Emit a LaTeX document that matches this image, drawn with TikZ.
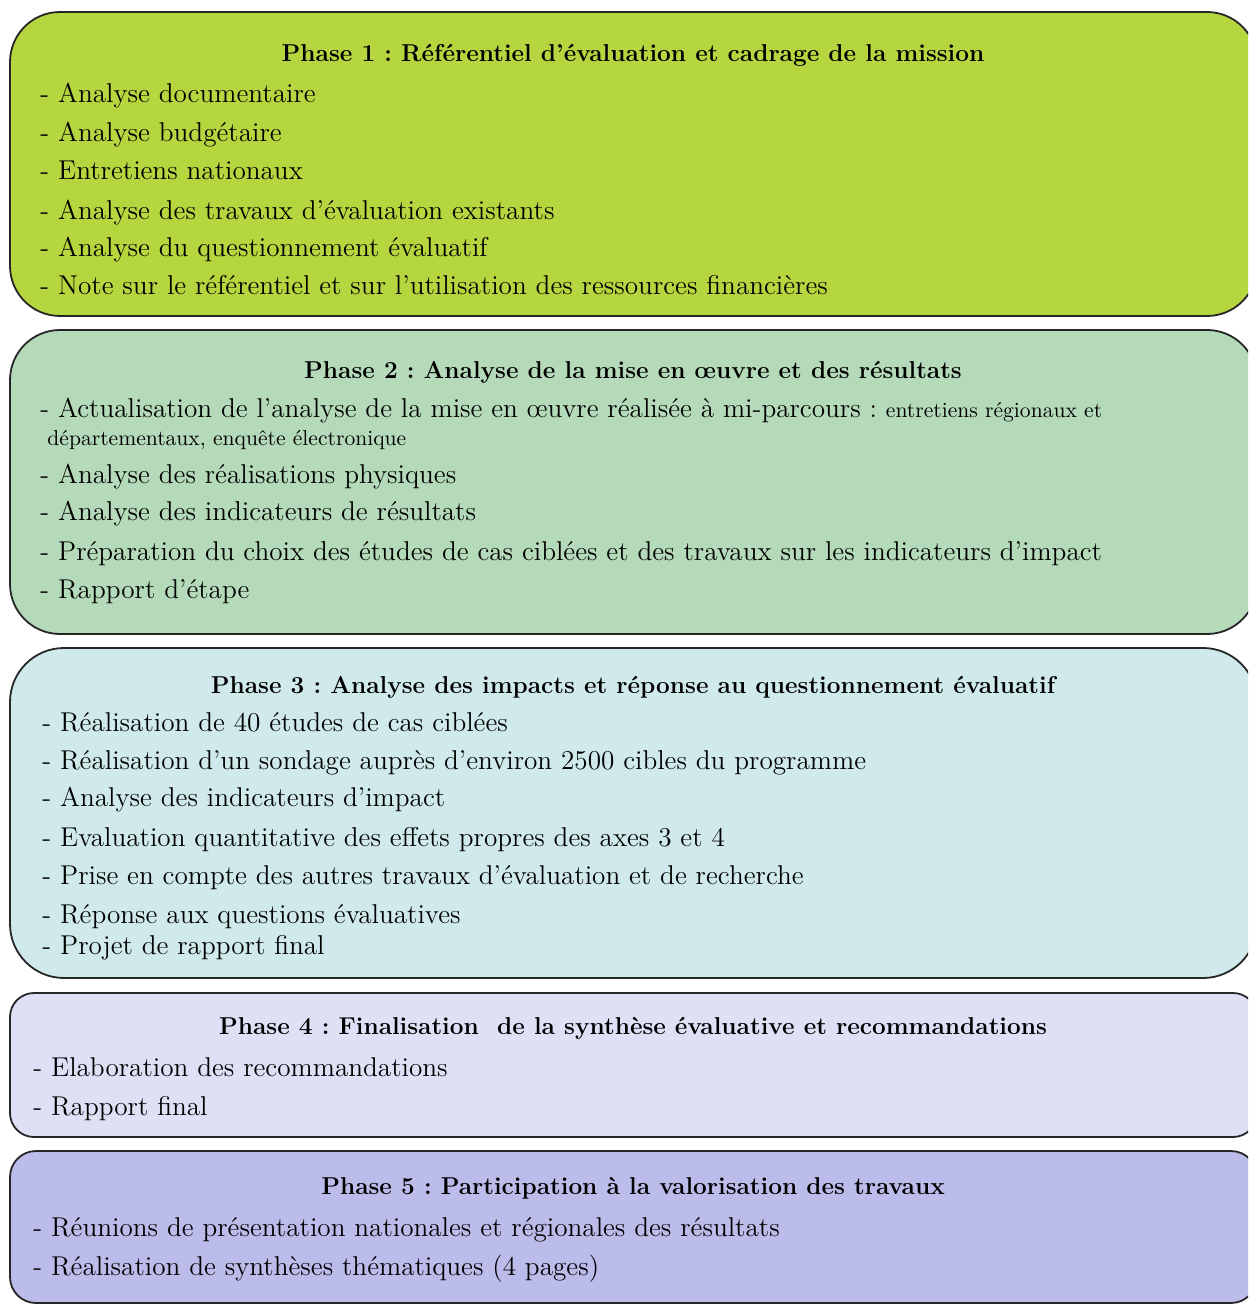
\documentclass[tikz,border=0pt]{standalone}
\usetikzlibrary{positioning, fit}
\definecolor{PhaseOne}{RGB}{181,214,63}
\definecolor{PhaseTwo}{RGB}{181,218,185}
\definecolor{PhaseThree}{RGB}{208,234,236}
\definecolor{PhaseFour}{RGB}{222,224,245}
\definecolor{PhaseFive}{RGB}{187,188,234}
\frenchspacing
\tikzset{
  phase/.style={draw=black!85, line width=0.9pt, rectangle, inner sep=0pt},
  titre/.style={anchor=base, inner sep=0pt, font=\fontsize{12.2}{14}\selectfont\bfseries},
  item/.style={anchor=base west, inner sep=0pt, font=\fontsize{13.6}{16}\selectfont},
  petit/.style={anchor=base west, inner sep=0pt, font=\fontsize{10.8}{12}\selectfont}
}

\begin{document}
\begin{tikzpicture}[x=0.5pt, y=-0.5pt]
\useasboundingbox (0,0) rectangle (1248,1304);
\clip (0,0) rectangle (1248,1304);
% phase boxes
\node[phase, fill=PhaseOne, rounded corners=25pt, fit={(10,12) (1257,316)}] (p1) {};
\node[phase, fill=PhaseTwo, rounded corners=25pt, fit={(10,330) (1257,634)}] (p2) {};
\node[phase, fill=PhaseThree, rounded corners=27pt, fit={(10,648) (1257,978)}] (p3) {};
\node[phase, fill=PhaseFour, rounded corners=12pt, fit={(10,993) (1257,1137)}] (p4) {};
\node[phase, fill=PhaseFive, rounded corners=13pt, fit={(10,1151) (1257,1303)}] (p5) {};
% phase 1
\node[titre] (t1) at (633,62) {Phase 1 : Référentiel d’évaluation et cadrage de la mission};
\node[item] (a1) at (40,103) {- Analyse documentaire};
\node[item] (a2) at (40,142) {- Analyse budgétaire};
\node[item] (a3) at (40,180) {- Entretiens nationaux};
\node[item] (a4) at (40,220) {- Analyse des travaux d’évaluation existants};
\node[item] (a5) at (40,257) {- Analyse du questionnement évaluatif};
\node[item] (a6) at (40,295) {- Note sur le référentiel et sur l’utilisation des ressources financières};
% phase 2
\node[titre] (t2) at (633,379) {Phase 2 : Analyse de la mise en œuvre et des résultats};
\node[item] (b1) at (40,417) {- Actualisation de l’analyse de la mise en œuvre réalisée à mi-parcours : {\fontsize{10.8}{12}\selectfont entretiens régionaux et}};
\node[petit] (b1s) at (47,445) {départementaux, enquête électronique};
\node[item] (b2) at (40,483) {- Analyse des réalisations physiques};
\node[item] (b3) at (40,520) {- Analyse des indicateurs de résultats};
\node[item] (b4) at (40,560) {- Préparation du choix des études de cas ciblées et des travaux sur les indicateurs d’impact};
\node[item] (b5) at (40,598) {- Rapport d’étape};
% phase 3
\node[titre] (t3) at (633,693) {Phase 3 : Analyse des impacts et réponse au questionnement évaluatif};
\node[item] (c1) at (42,731) {- Réalisation de 40 études de cas ciblées};
\node[item] (c2) at (42,769) {- Réalisation d’un sondage auprès d’environ 2500 cibles du programme};
\node[item] (c3) at (42,806) {- Analyse des indicateurs d’impact};
\node[item] (c4) at (42,846) {- Evaluation quantitative des effets propres des axes 3 et 4};
\node[item] (c5) at (42,884) {- Prise en compte des autres travaux d’évaluation et de recherche};
\node[item] (c6) at (42,923) {- Réponse aux questions évaluatives};
\node[item] (c7) at (42,954) {- Projet de rapport final};
% phase 4
\node[titre] (t4) at (633,1034) {Phase 4 : Finalisation\ \ de la synthèse évaluative et recommandations};
\node[item] (d1) at (33,1076) {- Elaboration des recommandations};
\node[item] (d2) at (33,1115) {- Rapport final};
% phase 5
\node[titre] (t5) at (633,1194) {Phase 5 : Participation à la valorisation des travaux};
\node[item] (e1) at (33,1236) {- Réunions de présentation nationales et régionales des résultats};
\node[item] (e2) at (33,1275) {- Réalisation de synthèses thématiques (4 pages)};
\end{tikzpicture}
\end{document}
